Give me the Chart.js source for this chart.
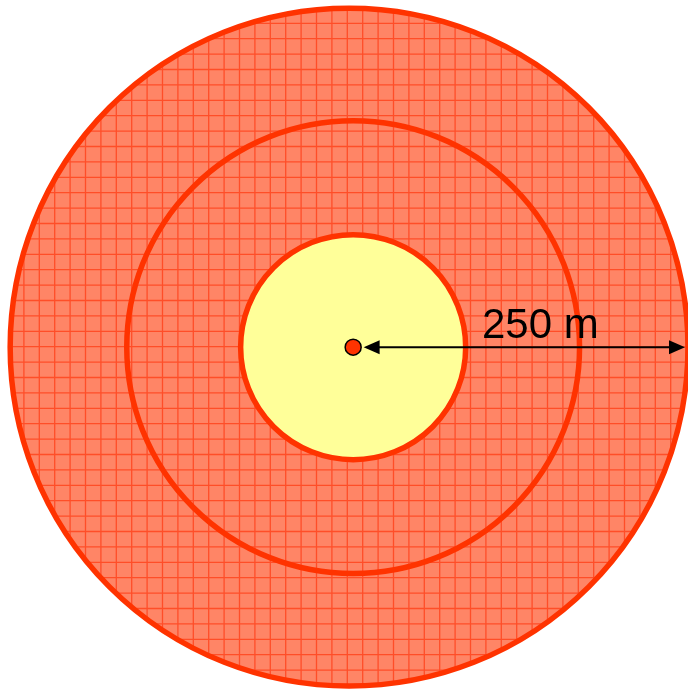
<!doctype html>
<html lang="en">
<head>
<meta charset="utf-8">
<title>250 m rings</title>
<style>
  html, body { margin: 0; padding: 0; background: #fff; }
  #wrap { width: 688px; height: 690px; }
</style>
</head>
<body>
<div id="wrap"><canvas id="rings"></canvas></div>
<script src="https://cdn.jsdelivr.net/npm/chart.js"></script>
<script>
// all distances in metres
const ringRadii = [83, 167, 250];
const ringCentreX = [0, 0, -3];
const centre = [{ x: 0, y: 0 }];
const arrowFrom = 0;
const distanceLabel = '250 m';
const labelPos = { x: 95, y: 6.5 };
const xRange = [-260.5, 247];
const yRange = [-252.8, 256];

const ringsPlugin = {
  id: 'rings',
  beforeDatasetsDraw(chart) {
    const { ctx, chartArea, scales: { x, y } } = chart;
    const rpx = (m) => Math.abs(x.getPixelForValue(m) - x.getPixelForValue(0));
    const cy = y.getPixelForValue(0);
    const last = ringRadii.length - 1;

    ctx.save();
    // hatched outer disc
    ctx.beginPath();
    ctx.arc(x.getPixelForValue(ringCentreX[last]), cy, rpx(ringRadii[last]), 0, Math.PI * 2);
    ctx.fillStyle = '#ff8566';
    ctx.fill();
    ctx.clip();
    ctx.strokeStyle = 'rgba(255, 60, 20, 0.75)';
    ctx.lineWidth = 1.3;
    ctx.beginPath();
    for (let gx = 347.3 % 15.4; gx < chartArea.right; gx += 15.4) {
      ctx.moveTo(gx, chartArea.top);
      ctx.lineTo(gx, chartArea.bottom);
    }
    for (let gy = 23.3 % 15.4; gy < chartArea.bottom; gy += 15.4) {
      ctx.moveTo(chartArea.left, gy);
      ctx.lineTo(chartArea.right, gy);
    }
    ctx.stroke();
    ctx.restore();

    ctx.save();
    // yellow core
    ctx.beginPath();
    ctx.arc(x.getPixelForValue(ringCentreX[0]), cy, rpx(ringRadii[0]), 0, Math.PI * 2);
    ctx.fillStyle = '#ffff99';
    ctx.fill();

    ctx.strokeStyle = '#ff3300';
    ctx.lineWidth = 5.5;
    ringRadii.forEach((r, i) => {
      ctx.beginPath();
      ctx.arc(x.getPixelForValue(ringCentreX[i]), cy, rpx(r), 0, Math.PI * 2);
      ctx.stroke();
    });

    // double arrow from centre to outer ring
    const x0 = x.getPixelForValue(arrowFrom) + 10.5;
    const x1 = x.getPixelForValue(ringCentreX[last] + ringRadii[last]) - 3;
    const head = 16, half = 7;
    ctx.strokeStyle = '#000';
    ctx.fillStyle = '#000';
    ctx.lineWidth = 2;
    ctx.beginPath();
    ctx.moveTo(x0 + head - 2, cy);
    ctx.lineTo(x1 - head + 2, cy);
    ctx.stroke();
    ctx.beginPath();
    ctx.moveTo(x0, cy);
    ctx.lineTo(x0 + head, cy - half);
    ctx.lineTo(x0 + head, cy + half);
    ctx.closePath();
    ctx.fill();
    ctx.beginPath();
    ctx.moveTo(x1, cy);
    ctx.lineTo(x1 - head, cy - half);
    ctx.lineTo(x1 - head, cy + half);
    ctx.closePath();
    ctx.fill();

    ctx.font = '42px "Liberation Sans", Arial, sans-serif';
    ctx.textBaseline = 'alphabetic';
    ctx.textAlign = 'left';
    ctx.fillText(distanceLabel, x.getPixelForValue(labelPos.x), y.getPixelForValue(labelPos.y));
    ctx.restore();
  }
};

new Chart(document.getElementById('rings'), {
  type: 'scatter',
  data: {
    datasets: [{
      data: centre,
      pointRadius: 8,
      backgroundColor: '#ff3300',
      borderColor: '#000',
      borderWidth: 1.5
    }]
  },
  options: {
    responsive: true,
    maintainAspectRatio: false,
    animation: false,
    layout: { padding: 0, autoPadding: false },
    plugins: { legend: { display: false }, tooltip: { enabled: false } },
    scales: {
      x: { type: 'linear', min: xRange[0], max: xRange[1], display: false },
      y: { type: 'linear', min: yRange[0], max: yRange[1], display: false }
    }
  },
  plugins: [ringsPlugin]
});
</script>
</body>
</html>
